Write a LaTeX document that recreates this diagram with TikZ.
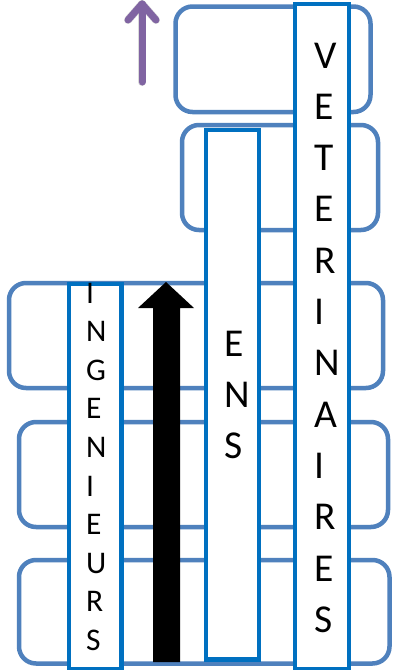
\documentclass[tikz,border=0pt]{standalone}
\usepackage{fontspec}
\setmainfont{Carlito}
\definecolor{rrblue}{HTML}{4F81BD}
\definecolor{barblue}{HTML}{0070C0}
\definecolor{arrowpurple}{HTML}{8064A2}
\tikzset{
  rrect/.style={draw=rrblue, line width=4.5pt, rounded corners=17pt, inner sep=0pt, minimum height=105pt},
  barbox/.style={draw=barblue, fill=white, line width=4.5pt, inner sep=0pt},
  bigletter/.style={font=\fontsize{39.5}{47}\selectfont, inner sep=0pt, anchor=base west},
  smallletter/.style={font=\fontsize{31.5}{38}\selectfont, inner sep=0pt, anchor=base west},
  parrow/.style={draw=arrowpurple, line width=7pt, line cap=round, line join=round},
  pshadow/.style={draw=black!40, opacity=0.35, line width=8pt, line cap=round, line join=round},
  blackarrow/.style={fill=black, draw=none},
}
\begin{document}
\begin{tikzpicture}[x=1pt, y=-1pt]
  \path[fill=white] (0,0) rectangle (395,670);
  \useasboundingbox (0,0) rectangle (395,670);
  % rounded rectangles
  \node[rrect, minimum width=195pt, minimum height=105.5pt] (r1) at (273,59.25) {};
  \node[rrect, minimum width=196pt] (r2) at (280,177.5) {};
  \node[rrect, minimum width=374pt] (r3) at (196,335.5) {};
  \node[rrect, minimum width=369pt] (r4) at (203.5,474.5) {};
  \node[rrect, minimum width=370.5pt, minimum height=103.5pt] (r5) at (204.25,611.75) {};
  % vertical bars
  \node[barbox, minimum width=52.5pt, minimum height=385pt] (ing) at (95.25,476.5) {};
  \node[barbox, minimum width=53pt, minimum height=529.5pt] (ens) at (232.5,394.75) {};
  \node[barbox, minimum width=54pt, minimum height=665pt] (vet) at (322,336.5) {};
  % letters
  \foreach \c [count=\k from 0] in {I,N,G,E,N,I,E,U,R,S}
    \node[smallletter] (ing\k) at (86,{303+38.6*\k}) {\c};
  \foreach \c [count=\k from 0] in {E,N,S}
    \node[bigletter] (ens\k) at (224,{356+51*\k}) {\c};
  \foreach \c [count=\k from 0] in {V,E,T,E,R,I,N,A,I,R,E,S}
    \node[bigletter] (vet\k) at (314,{68+51.3*\k}) {\c};
  % black block arrow
  \path[blackarrow] (153,662) -- (153,308) -- (138,308) -- (166,282) -- (194,308) -- (180,308) -- (180,662) -- cycle;
  % purple arrow
  \coordinate (pa) at (142,82);
  \coordinate (pb) at (142,4);
  \coordinate (pl) at (128,20);
  \coordinate (pr) at (156,20);
  \begin{scope}[shift={(1.5,2.5)}]
    \draw[pshadow] (pa) -- (pb);
    \draw[pshadow] (pl) -- (pb) -- (pr);
  \end{scope}
  \draw[parrow] (pa) -- (pb);
  \draw[parrow] (pl) -- (pb) -- (pr);
\end{tikzpicture}
\end{document}
